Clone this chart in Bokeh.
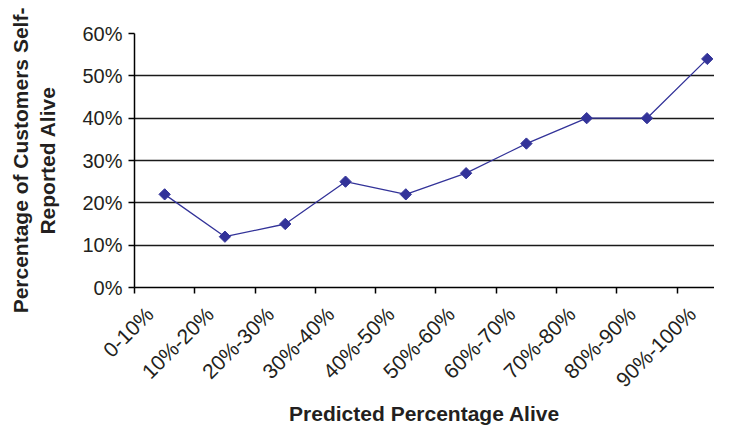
import math
from bokeh.plotting import figure
from bokeh.models import Range1d, FixedTicker, NumeralTickFormatter
from bokeh.embed import file_html
from bokeh.resources import INLINE

categories = ["0-10%", "10%-20%", "20%-30%", "30%-40%", "40%-50%",
              "50%-60%", "60%-70%", "70%-80%", "80%-90%", "90%-100%"]
values = [0.22, 0.12, 0.15, 0.25, 0.22, 0.27, 0.34, 0.40, 0.40, 0.54]
y_ticks = [0.0, 0.1, 0.2, 0.3, 0.4, 0.5, 0.6]
x_title = "Predicted Percentage Alive"
y_title = "Percentage of Customers Self-\nReported Alive"

xs = [i + 0.5 for i in range(len(categories))]
label_pos = [i + 0.25 for i in range(len(categories))]
boundaries = list(range(len(categories)))

FONT = "Liberation Sans"
TXT = "#231f20"

p = figure(width=714, height=428, output_backend="svg", toolbar_location=None,
           x_range=Range1d(0, 9.62), y_range=Range1d(0, 0.6),
           min_border_left=134, min_border_top=33, min_border_right=0,
           min_border_bottom=141)
p.outline_line_color = None
p.background_fill_color = "white"
p.border_fill_color = "white"

p.line(xs, values, line_color="#333399", line_width=1.3)
p.scatter(xs, values, marker="square", angle=math.pi / 4, size=8,
          fill_color="#333399", line_color="#333399")

# x axis
xa = p.xaxis[0]
xa.ticker = FixedTicker(ticks=label_pos, minor_ticks=boundaries)
xa.major_label_overrides = {x: c for x, c in zip(label_pos, categories)}
xa.major_tick_out = 0
xa.major_tick_in = 0
xa.minor_tick_out = 6
xa.minor_tick_in = 0
xa.minor_tick_line_color = "black"
xa.minor_tick_line_width = 1.5
xa.axis_line_color = "black"
xa.axis_line_width = 1.5
xa.major_label_orientation = math.pi / 4
xa.major_label_text_font = FONT
xa.major_label_text_font_size = "21px"
xa.major_label_text_color = TXT
xa.major_label_standoff = 17
xa.axis_label = x_title
xa.axis_label_text_font = FONT
xa.axis_label_text_font_style = "bold"
xa.axis_label_text_font_size = "21px"
xa.axis_label_text_color = TXT
xa.axis_label_standoff = 0

# y axis
ya = p.yaxis[0]
ya.ticker = FixedTicker(ticks=y_ticks, minor_ticks=[])
ya.formatter = NumeralTickFormatter(format="0%")
ya.major_tick_out = 6
ya.major_tick_in = 0
ya.major_tick_line_color = "black"
ya.major_tick_line_width = 1.5
ya.axis_line_color = "black"
ya.axis_line_width = 1.5
ya.major_label_text_font = FONT
ya.major_label_text_font_size = "20px"
ya.major_label_text_color = TXT
ya.major_label_standoff = 6
ya.axis_label = y_title
ya.axis_label_text_font = FONT
ya.axis_label_text_font_style = "bold"
ya.axis_label_text_font_size = "21px"
ya.axis_label_text_color = TXT
ya.axis_label_standoff = 20

p.xgrid.visible = False
p.ygrid.ticker = FixedTicker(ticks=y_ticks)
p.ygrid.grid_line_color = "#1a1a1a"
p.ygrid.grid_line_width = 1.3

open("out.html", "w").write(file_html(p, INLINE))
